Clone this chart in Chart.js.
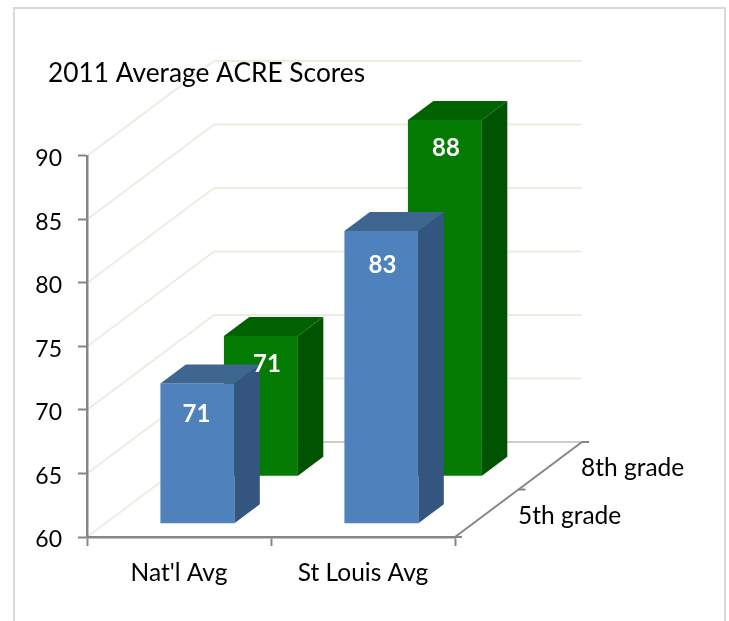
<!DOCTYPE html>
<html>
<head>
<meta charset="utf-8">
<title>2011 Average ACRE Scores</title>
<script src="https://cdn.jsdelivr.net/npm/chart.js@4"></script>
<style>
  html, body { margin: 0; padding: 0; background: #fff; overflow: hidden; }
  canvas { display: block; }
</style>
</head>
<body>
<canvas id="acreChart" width="729" height="621"></canvas>
<script>
const categories = ["Nat'l Avg", 'St Louis Avg']
const fifthGrade = [71, 83]
const eighthGrade = [71, 88]
const seriesNames = ['5th grade', '8th grade']
const chartTitle = '2011 Average ACRE Scores'

const fontName = 'Lato, "Open Sans", sans-serif'
const axisGrey = '#868686'
const wallLine = '#EEECE1'

// how far the back wall sits from the front plane, in pixels
const depthX = 127
const depthY = -95
const barDepth = 0.2
const seriesDepth = [0.145, 0.645]
const faces = [
  { front: '#4F81BD', side: '#33557F', top: '#3F6591' },
  { front: '#047C04', side: '#005300', top: '#006200' }
]
// small hand moved offsets of the value labels, like in the original
const labelShift = [[[-1, 3], [1, 6]], [[6, 0], [1, 0]]]

function poly(ctx, pts, fill) {
  ctx.beginPath()
  pts.forEach((p, i) => i ? ctx.lineTo(p[0], p[1]) : ctx.moveTo(p[0], p[1]))
  ctx.closePath()
  ctx.fillStyle = fill
  ctx.fill()
}

function line(ctx, x1, y1, x2, y2, color, width) {
  ctx.beginPath()
  ctx.moveTo(x1, y1)
  ctx.lineTo(x2, y2)
  ctx.strokeStyle = color
  ctx.lineWidth = width
  ctx.stroke()
}

const frame3d = {
  id: 'frame3d',
  afterLayout(chart) {
    // y axis box is wide so its labels are not clipped, title stays where it was
    chart.titleBlock.left = 48
  },
  beforeDraw(chart) {
    const ctx = chart.ctx
    const { left, right, bottom } = chart.chartArea
    const y = chart.scales.y
    ctx.save()
    ctx.beginPath()
    ctx.moveTo(14, 621)
    ctx.lineTo(14, 8)
    ctx.lineTo(725, 8)
    ctx.lineTo(725, 621)
    ctx.strokeStyle = '#D9D9D9'
    ctx.lineWidth = 2
    ctx.stroke()
    // side wall and back wall lines, these go under the title
    y.ticks.forEach(t => {
      const py = y.getPixelForValue(t.value)
      const isFloor = t.value === y.min
      line(ctx, left, py, left + depthX, py + depthY, wallLine, 2)
      line(ctx, left + depthX, py + depthY, right + depthX, py + depthY, isFloor ? '#CFCEC6' : wallLine, 2)
    })
    // depth axis on the floor
    line(ctx, right, bottom, right + depthX, bottom + depthY, axisGrey, 2)
    ;[0, 0.5, 1].forEach(d => {
      const px = right + depthX * d
      const py = bottom + depthY * d
      line(ctx, px, py, px + 7, py, axisGrey, 2)
    })
    ctx.restore()
  },
  beforeDatasetDraw(chart, args) {
    const ctx = chart.ctx
    const i = args.index
    const shift = seriesDepth[i]
    const dx = depthX * barDepth
    const dy = depthY * barDepth
    const c = faces[i]
    ctx.save()
    args.meta.data.forEach(bar => {
      const x0 = bar.x - bar.width / 2 + depthX * shift
      const x1 = bar.x + bar.width / 2 + depthX * shift
      const yTop = bar.y + depthY * shift
      const yBase = chart.scales.y.getPixelForValue(chart.scales.y.min) + depthY * shift
      poly(ctx, [[x0, yBase], [x1, yBase], [x1, yTop], [x0, yTop]], c.front)
      poly(ctx, [[x1, yBase], [x1 + dx, yBase + dy], [x1 + dx, yTop + dy], [x1, yTop]], c.side)
      poly(ctx, [[x0, yTop], [x0 + dx, yTop + dy], [x1 + dx, yTop + dy], [x1, yTop]], c.top)
    })
    ctx.restore()
    return false
  },
  afterDatasetsDraw(chart) {
    const ctx = chart.ctx
    const { right, bottom } = chart.chartArea
    ctx.save()
    ctx.textAlign = 'center'
    ctx.textBaseline = 'middle'
    ctx.font = 'bold 24px ' + fontName
    ctx.fillStyle = '#fff'
    chart.data.datasets.forEach((ds, i) => {
      chart.getDatasetMeta(i).data.forEach((bar, j) => {
        const px = bar.x + depthX * seriesDepth[i] + labelShift[i][j][0]
        const py = bar.y + depthY * seriesDepth[i] + 28 + labelShift[i][j][1]
        ctx.fillText(ds.data[j], px, py)
      })
    })
    // series names next to the depth axis
    ctx.textAlign = 'left'
    ctx.font = '24.5px ' + fontName
    ctx.fillStyle = '#000'
    ctx.fillText(seriesNames[0], right + 63, bottom - 21)
    ctx.fillText(seriesNames[1], right + 126, bottom - 69)
    ctx.restore()
  }
}

new Chart(document.getElementById('acreChart'), {
  type: 'bar',
  data: {
    labels: categories,
    datasets: [
      { label: seriesNames[0], data: fifthGrade, backgroundColor: faces[0].front },
      { label: seriesNames[1], data: eighthGrade, backgroundColor: faces[1].front }
    ]
  },
  plugins: [frame3d],
  options: {
    responsive: false,
    animation: false,
    grouped: false,
    barThickness: 74,
    layout: { padding: { left: 20, right: 274, top: 57.5, bottom: 30 } },
    plugins: {
      legend: { display: false },
      tooltip: { enabled: false },
      title: {
        display: true,
        text: chartTitle,
        align: 'start',
        color: '#000',
        font: { family: fontName, size: 26.3, weight: 'normal', lineHeight: 1.2 },
        padding: { top: 0, bottom: 66.9 }
      }
    },
    scales: {
      x: {
        offset: true,
        afterFit: s => { s.height = 54 },
        grid: { drawOnChartArea: false, tickLength: 9, tickColor: axisGrey, tickWidth: 2 },
        border: { color: axisGrey, width: 2.5 },
        ticks: { color: '#000', padding: 12, maxRotation: 0, font: { family: fontName, size: 24.5 } }
      },
      y: {
        min: 60,
        max: 90,
        afterFit: s => { s.width = 67 },
        grid: { drawOnChartArea: false, tickLength: 9, tickColor: axisGrey, tickWidth: 2 },
        border: { color: axisGrey, width: 2.5 },
        ticks: { stepSize: 5, color: '#000', padding: 16, labelOffset: 3, font: { family: fontName, size: 23 } }
      }
    }
  }
})
</script>
</body>
</html>
